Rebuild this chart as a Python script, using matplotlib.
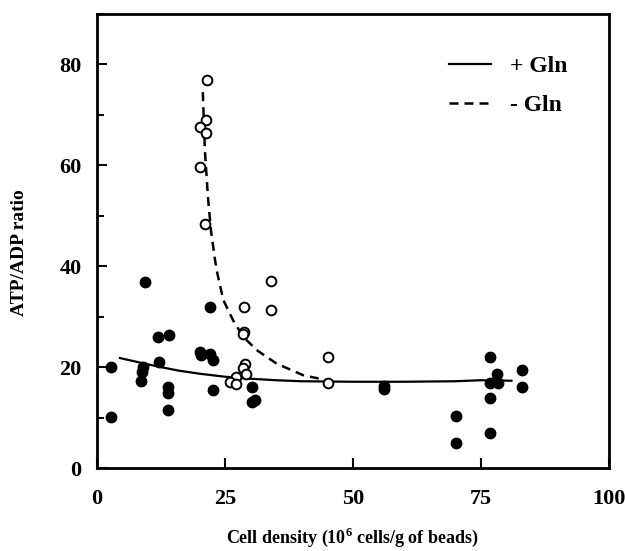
import matplotlib.pyplot as plt
from matplotlib.ticker import MultipleLocator

# + Gln (filled circles)
plus_x = [2.7, 2.7, 9.4, 9.0, 8.8, 8.7, 12.0, 14.1, 12.1, 13.8, 13.8, 13.8,
          22.1, 20.1, 20.4, 22.1, 22.7, 22.6, 30.3, 30.3, 30.9,
          56.0, 56.0, 70.1, 70.1, 76.8, 78.2, 76.8, 78.4, 76.8, 76.8, 83.0, 83.0]
plus_y = [20.0, 10.2, 36.9, 20.0, 19.0, 17.3, 25.9, 26.3, 21.0, 16.1, 14.8, 11.5,
          32.0, 23.0, 22.4, 22.7, 21.4, 15.4, 16.1, 13.1, 13.4,
          16.2, 15.6, 10.3, 4.9, 22.0, 18.6, 16.8, 16.8, 13.9, 7.0, 19.4, 16.0]

# - Gln (open circles)
minus_x = [21.5, 21.4, 20.1, 21.4, 20.1, 21.1, 34.1, 34.1, 28.8, 28.8, 28.6,
           45.2, 45.2, 29.0, 28.5, 29.2, 27.1, 26.0, 27.1]
minus_y = [77.0, 68.9, 67.6, 66.4, 59.7, 48.3, 37.0, 31.3, 32.0, 26.9, 26.5,
           22.0, 16.9, 20.6, 19.8, 18.6, 18.0, 17.0, 16.6]

# fitted curves
fit_plus_x = [4.5, 8, 12, 16, 20, 25, 30, 35, 40, 50, 60, 70, 75, 81]
fit_plus_y = [21.8, 21.0, 20.1, 19.3, 18.7, 18.1, 17.7, 17.4, 17.2, 17.1, 17.1, 17.2, 17.4, 17.3]
fit_minus_x = [20.7, 21.1, 21.7, 22.3, 23.0, 23.4, 24.7, 26.6, 28.6, 31.2, 35.1, 40.3, 44.9]
fit_minus_y = [74.5, 63.0, 53.7, 47.0, 41.8, 39.2, 33.3, 29.3, 26.0, 23.4, 20.7, 18.4, 17.4]

plt.rcParams['font.family'] = ['Liberation Serif', 'DejaVu Serif']
plt.rcParams['font.weight'] = 'bold'
plt.rcParams['axes.labelweight'] = 'bold'
plt.rcParams['mathtext.fontset'] = 'custom'
plt.rcParams['mathtext.bf'] = 'Liberation Serif:bold'

fig = plt.figure(figsize=(6.25, 5.51), dpi=100)
ax = fig.add_axes([0.155, 0.1506, 0.819, 0.824])

ax.plot(fit_plus_x, fit_plus_y, color='black', lw=1.6, label='+ Gln')
ax.plot(fit_minus_x, fit_minus_y, color='black', lw=1.8, ls=(0, (3.6, 2.4)), label='- Gln')
ax.plot(plus_x, plus_y, 'o', color='black', ms=7.5, ls='none')
ax.plot(minus_x, minus_y, 'o', mfc='white', mec='black', mew=1.4, ms=7.0, ls='none')

ax.set_xlim(0, 100)
ax.set_ylim(0, 90)
ax.set_xticks([0, 25, 50, 75, 100])
ax.set_yticks([0, 20, 40, 60, 80])
ax.yaxis.set_minor_locator(MultipleLocator(10))
ax.tick_params(which='both', direction='in', width=1.5, labelsize=16)
ax.tick_params(which='major', length=7)
ax.tick_params(which='minor', length=5)
ax.tick_params(axis='x', pad=15)
ax.tick_params(axis='y', pad=11)
for s in ax.spines.values():
    s.set_linewidth(2)

ax.set_xlabel('Cell density (10$^{\\mathbf{6}}$ cells/g of beads)', fontsize=13, labelpad=12)
ax.set_ylabel('ATP/ADP ratio', fontsize=14)
ax.yaxis.set_label_coords(-0.135, 0.475)

leg = ax.legend(loc='upper right', bbox_to_anchor=(0.96, 0.955), frameon=False,
                fontsize=17, handlelength=1.75, handletextpad=0.8, labelspacing=0.75)

plt.savefig('out.png', dpi=100)
plt.close()
